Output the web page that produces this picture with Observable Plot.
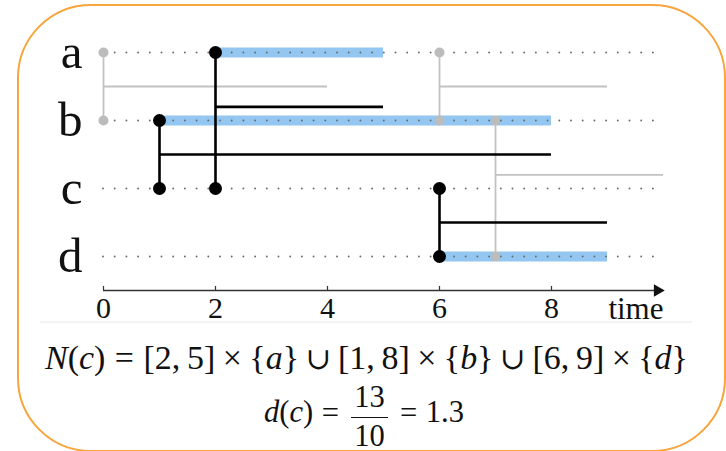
<!DOCTYPE html>
<html>
<head>
<meta charset="utf-8">
<script src="https://cdn.jsdelivr.net/npm/d3@7"></script>
<script src="https://cdn.jsdelivr.net/npm/@observablehq/plot@0.6"></script>
<style>
  html, body { margin: 0; padding: 0; background: #ffffff; }
  #wrap { position: relative; width: 726px; height: 451px; overflow: hidden; background: #fff; }
  #chart { position: absolute; left: 0; top: 0; }
  #box { position: absolute; left: 17px; top: 4px; width: 709px; height: 448px; box-sizing: border-box;
         border: 2px solid #f7a53c; border-radius: 74px; pointer-events: none; }
  #sep { position: absolute; left: 40px; top: 321px; width: 652px; height: 2px; background: #f3f3f3; }
  .math { position: absolute; font-family: "Liberation Serif", serif; color: #111; line-height: 1; white-space: nowrap; }
  .math i { font-style: italic; }
  .op { font-family: "DejaVu Serif", serif; font-weight: 300; font-size: 0.9em; }
  .rel { margin: 0 0.28em; }
  .bin { margin: 0 0.22em; }
  .frac { display: inline-flex; flex-direction: column; align-items: center; vertical-align: middle; margin: 0 0.12em; }
  .frac .num { padding: 0 0.1em 0.13em; border-bottom: 1.3px solid #111; }
  .frac .den { padding: 0.2em 0.1em 0; line-height: 0.8; }
</style>
</head>
<body>
<div id="wrap">
  <div id="chart"></div>
  <div id="sep"></div>
  <div id="f1" class="math"></div>
  <div id="f2" class="math"></div>
  <div id="box"></div>
</div>
<script>
// ---- data ----
const rows = ["a", "b", "c", "d"];
const timeDomain = [0, 10];
const xTickValues = [0, 2, 4, 6, 8];
const xAxisLabel = "time";
const yDomain = [0, 3.5];

// neighbourhood of c (blue)
const blueNode = ["a", "b", "d"];
const blueStart = [2, 1, 6];
const blueEnd = [5, 8, 9];

// interactions involving c (black)
const blackTime = [2, 1, 6];
const blackFrom = ["a", "b", "c"];
const blackTo = ["c", "c", "d"];
const blackEnd = [5, 8, 9];
const blackLevel = [0.8, 1.5, 2.5];

// other interactions (gray)
const grayTime = [0, 6, 7];
const grayFrom = ["a", "a", "b"];
const grayTo = ["b", "b", "d"];
const grayEnd = [4, 9, 10];
const grayLevel = [0.5, 0.5, 1.8];
const grayMarker = ["circle", "circle", "square"];

const totalTime = 10;

// ---- tables ----
const ri = n => rows.indexOf(n);
const blueT = blueNode.map((n, i) => ({row: ri(n), start: blueStart[i], end: blueEnd[i]}));
const blackT = blackTime.map((t, i) => ({t, from: ri(blackFrom[i]), to: ri(blackTo[i]), end: blackEnd[i], level: blackLevel[i]}));
const grayT = grayTime.map((t, i) => ({t, from: ri(grayFrom[i]), to: ri(grayTo[i]), end: grayEnd[i], level: grayLevel[i], marker: grayMarker[i]}));
const blackPts = blackT.flatMap(d => [{t: d.t, y: d.from}, {t: d.t, y: d.to}]);
const grayPts = grayT.flatMap(d => [{t: d.t, y: d.from, m: d.marker}, {t: d.t, y: d.to, m: d.marker}]);
const rowIdx = rows.map((r, i) => i);

const serif = "Liberation Serif, serif";
const blue = "#93c6f0";
const gray = "#c2c2c2";

const chart = Plot.plot({
  width: 726, height: 322,
  marginLeft: 103, marginRight: 63, marginTop: 52, marginBottom: 32,
  x: {domain: timeDomain, axis: null},
  y: {domain: yDomain, reverse: true, axis: null},
  style: {background: "transparent", fontFamily: serif, color: "#111", overflow: "visible"},
  marks: [
    Plot.ruleY(blueT, {y: "row", x1: "start", x2: "end", stroke: blue, strokeWidth: 10}),
    Plot.ruleY(rowIdx, {y: d => d, x1: () => timeDomain[0], x2: () => timeDomain[1], stroke: "#6a6a6a", strokeWidth: 1.9,
      strokeDasharray: "0,11.7", strokeLinecap: "round"}),
    Plot.ruleX(grayT, {x: "t", y1: "from", y2: "to", stroke: gray, strokeWidth: 1.8}),
    Plot.ruleY(grayT, {y: "level", x1: "t", x2: "end", stroke: gray, strokeWidth: 1.8}),
    Plot.dot(grayPts, {x: "t", y: "y", symbol: "m", r: 5, fill: "#bcbcbc"}),
    Plot.ruleX(blackT, {x: "t", y1: "from", y2: "to", stroke: "#000", strokeWidth: 2.6}),
    Plot.ruleY(blackT, {y: "level", x1: "t", x2: "end", stroke: "#000", strokeWidth: 2.6}),
    Plot.dot(blackPts, {x: "t", y: "y", r: 6.5, fill: "#000"}),
    // axis
    Plot.ruleY([yDomain[1]], {stroke: "#333", strokeWidth: 1.3}),
    Plot.ruleX(xTickValues, {x: d => d, insetTop: 234, stroke: "#333", strokeWidth: 1.2}),
    Plot.dot([timeDomain[1]], {x: d => d, y: () => yDomain[1], symbol: "triangle2", rotate: 90, r: 6, dx: -6, fill: "#111"}),
    Plot.text(xTickValues, {x: d => d, y: () => yDomain[1], text: d => String(d), lineAnchor: "top", dy: 6, fontSize: 30, fontFamily: serif, fill: "#111"}),
    Plot.text([xAxisLabel], {x: () => timeDomain[1], y: () => yDomain[1], text: d => d, textAnchor: "end", lineAnchor: "top", dy: 6, fontSize: 31, fontFamily: serif, fill: "#111"}),
    Plot.axisY({ticks: rowIdx, tickFormat: i => rows[i], tickSize: 0, tickPadding: 21, fontSize: 49, fontFamily: serif, label: null})
  ]
});
document.getElementById("chart").appendChild(chart);

// ---- formulas built from the data ----
const f1 = document.getElementById("f1");
const parts = blueNode.map((n, i) => `[${blueStart[i]},&thinsp;${blueEnd[i]}]<span class="bin">×</span>{<i>${n}</i>}`);
f1.innerHTML = `<i>N</i>(<i>c</i>)<span class="rel">=</span>` + parts.join(`<span class="bin op">∪</span>`);
f1.style.fontSize = "30px";
const w1 = f1.getBoundingClientRect().width;
const fs1 = 30 * 643 / w1;
f1.style.fontSize = fs1 + "px";
f1.style.left = "45px";
f1.style.top = (370 - 0.84 * fs1) + "px";

const sum = d3.sum(blueNode, (n, i) => blueEnd[i] - blueStart[i]);
const f2 = document.getElementById("f2");
const fs2 = fs1 * 0.9;
f2.style.fontSize = fs2 + "px";
f2.innerHTML = `<i>d</i>(<i>c</i>)<span class="rel">=</span><span class="frac"><span class="num">${sum}</span><span class="den">${totalTime}</span></span><span class="rel">=</span>${d3.format(".1f")(sum / totalTime)}`;
f2.style.left = "0px"; f2.style.top = "0px";
const r2 = f2.getBoundingClientRect();
const numR = f2.querySelector(".num").getBoundingClientRect();
f2.style.left = (364 - r2.width / 2) + "px";
f2.style.top = (418 - (numR.bottom - r2.top)) + "px";
</script>
</body>
</html>
